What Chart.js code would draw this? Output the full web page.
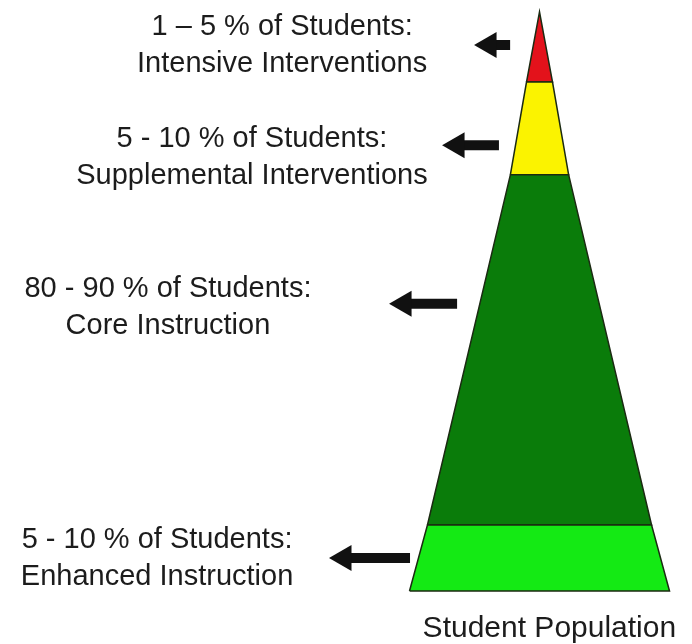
<!DOCTYPE html>
<html>
<head>
<meta charset="utf-8">
<script src="https://cdn.jsdelivr.net/npm/chart.js@4/dist/chart.umd.min.js"></script>
<style>
  html, body { margin: 0; padding: 0; background: #ffffff; }
  #wrap { width: 692px; height: 644px; position: relative; }
</style>
</head>
<body>
<div id="wrap"><canvas id="pyramidChart"></canvas></div>
<script>
// tiers, from the base of the pyramid up to the tip
const tierNames = ['Enhanced Instruction', 'Core Instruction', 'Supplemental Interventions', 'Intensive Interventions'];
const tierColors = ['#14ea14', '#0a7c0a', '#fbf300', '#e3121b'];
// height of each tier boundary (0 = base, 100 = tip)
const tierLevels = [0, 11.4, 71.9, 87.9, 100];
// half width of the pyramid at each boundary (base width = 100)
const tierHalfWidths = [50, 43.1, 11.2, 5.0, 0];

// text next to each tier (same order as tiers)
const tierShares = ['5 - 10 % of Students:', '80 - 90 % of Students:', '5 - 10 % of Students:', '1 \u2013 5 % of Students:'];
const axisTitle = 'Student Population';

// arrows pointing at each tier: height, head centre x, tail x
const arrowLevels = [5.7, 49.6, 77.0, 94.3];
const arrowHeads = [-75.2, -52.1, -31.7, -19.4];
const arrowTails = [-49.8, -31.7, -15.6, -11.3];

// label placement (centre x, baseline of first line), same units as the chart
const labelX = [-147.1, -142.9, -110.6, -99.0];
const labelY = [7.4, 50.8, 76.7, 96.0];
const titleX = 3.8;
const titleY = -7.9;

const datasets = [];

// one closed polygon per tier
tierNames.forEach(function (name, i) {
    const b0 = tierLevels[i], b1 = tierLevels[i + 1];
    const w0 = tierHalfWidths[i], w1 = tierHalfWidths[i + 1];
    datasets.push({
        label: name,
        data: [
            { x: -w0, y: b0 }, { x: w0, y: b0 },
            { x: w1, y: b1 }, { x: -w1, y: b1 },
            { x: -w0, y: b0 }
        ],
        borderColor: '#1b2a12',
        borderWidth: 1.5,
        backgroundColor: tierColors[i],
        fill: 'shape',
        pointRadius: 0,
        tension: 0
    });
});

// arrows: thick shaft plus a triangle head
arrowLevels.forEach(function (lvl, i) {
    datasets.push({
        label: 'arrow ' + i,
        data: [{ x: arrowHeads[i], y: lvl }, { x: arrowTails[i], y: lvl }],
        borderColor: '#111111',
        borderWidth: 10,
        borderCapStyle: 'butt',
        fill: false,
        pointStyle: 'triangle',
        rotation: -90,
        pointRadius: [15, 0],
        pointBackgroundColor: '#111111',
        pointBorderColor: '#111111',
        pointBorderWidth: 0,
        tension: 0
    });
});

// labels drawn as text on the canvas
const labelPlugin = {
    id: 'tierLabels',
    afterDatasetsDraw(chart) {
        const c = chart.ctx;
        const xs = chart.scales.x, ys = chart.scales.y;
        c.save();
        c.fillStyle = '#1c1c1c';
        c.textAlign = 'center';
        c.textBaseline = 'alphabetic';
        c.font = '29px "Liberation Sans", Arial, sans-serif';
        tierNames.forEach(function (name, i) {
            const px = xs.getPixelForValue(labelX[i]);
            const py = ys.getPixelForValue(labelY[i]);
            c.fillText(tierShares[i], px, py);
            c.fillText(name, px, py + 37);
        });
        c.font = '30px "Liberation Sans", Arial, sans-serif';
        c.fillText(axisTitle, xs.getPixelForValue(titleX), ys.getPixelForValue(titleY));
        c.restore();
    }
};

const ctx = document.getElementById('pyramidChart').getContext('2d');

const pyramidChart = new Chart(ctx, {
    type: 'line',
    data: { datasets: datasets },
    options: {
        responsive: true,
        maintainAspectRatio: false,
        animation: false,
        layout: { padding: 0, autoPadding: false },
        plugins: {
            legend: { display: false },
            tooltip: { enabled: false }
        },
        scales: {
            x: { type: 'linear', min: -207.5, max: 58.65, display: false },
            y: { type: 'linear', min: -9.15, max: 102.07, display: false }
        }
    },
    plugins: [labelPlugin]
});
</script>
</body>
</html>
